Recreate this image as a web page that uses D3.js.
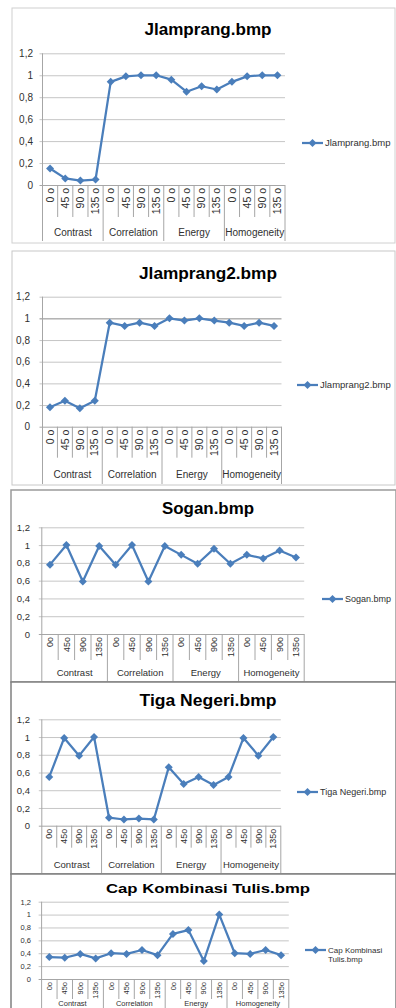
<!DOCTYPE html>
<html>
<head>
<meta charset="utf-8">
<script src="https://cdn.jsdelivr.net/npm/d3@7"></script>
<style>
  html, body { margin: 0; padding: 0; background: #fff; }
  svg { display: block; }
  text { font-family: "Liberation Sans", Arial, sans-serif; }
</style>
</head>
<body>
<svg id="chart" width="396" height="1008"></svg>
<script>
// ---------- data ----------
const categories = ["Contrast", "Correlation", "Energy", "Homogeneity"];
const angleLabels = ["0 o", "45 o", "90 o", "135 o"];
const angleLabelsCompact = ["0o", "45o", "90o", "135o"];
const yTickValues = [0, 0.2, 0.4, 0.6, 0.8, 1, 1.2];
const seriesNames = ["Jlamprang.bmp", "Jlamprang2.bmp", "Sogan.bmp", "Tiga Negeri.bmp", "Cap Kombinasi Tulis.bmp"];
const legendLabels = [["Jlamprang.bmp"], ["Jlamprang2.bmp"], ["Sogan.bmp"], ["Tiga Negeri.bmp"], ["Cap Kombinasi", "Tulis.bmp"]];

const jlamprangValues   = [0.15, 0.06, 0.04, 0.05, 0.94, 0.99, 1.00, 1.00, 0.96, 0.85, 0.90, 0.87, 0.94, 0.99, 1.00, 1.00];
const jlamprang2Values  = [0.18, 0.24, 0.17, 0.24, 0.96, 0.93, 0.96, 0.93, 1.00, 0.98, 1.00, 0.98, 0.96, 0.93, 0.96, 0.93];
const soganValues       = [0.78, 1.00, 0.59, 0.99, 0.78, 1.00, 0.59, 0.99, 0.89, 0.79, 0.96, 0.79, 0.89, 0.85, 0.94, 0.86];
const tigaNegeriValues  = [0.55, 0.99, 0.79, 1.00, 0.09, 0.07, 0.08, 0.07, 0.66, 0.47, 0.55, 0.46, 0.55, 0.99, 0.79, 1.00];
const capKombinasiValues= [0.34, 0.33, 0.39, 0.32, 0.40, 0.39, 0.45, 0.37, 0.70, 0.76, 0.28, 1.00, 0.40, 0.39, 0.45, 0.37];
const allSeries = [jlamprangValues, jlamprang2Values, soganValues, tigaNegeriValues, capKombinasiValues];
const angleSets = [angleLabels, angleLabels, angleLabelsCompact, angleLabelsCompact, angleLabelsCompact];

// ---------- layout (positions & styles) ----------
const layouts = [
  { frame: [12, 8, 383, 235], frameColor: "#d0d0d0", frameWidth: 1,
    titleY: 35, titleSize: 17, titleLen: 127,
    x0: 42.5, x1: 285, yTop: 53.3, yBot: 185, tickX: 33, tickSize: 10,
    innerLen: 32, groupBottom: 241, groupLabelY: 235.5, angleSize: 10.5, groupSize: 10,
    legX: 302, legY: 143, legSize: 9.5, oneLine: null },
  { frame: [12, 251, 383, 234], frameColor: "#c8c8c8", frameWidth: 1,
    titleY: 279, titleSize: 17, titleLen: 138,
    x0: 42.5, x1: 281.5, yTop: 296.7, yBot: 426.7, tickX: 30, tickSize: 10,
    innerLen: 31, groupBottom: 484, groupLabelY: 477.5, angleSize: 10.5, groupSize: 10,
    legX: 297, legY: 385, legSize: 9.5, oneLine: 1 },
  { frame: [11, 490, 385, 192], frameColor: "#9a9a9a", frameWidth: 1.5,
    titleY: 514, titleSize: 17, titleLen: 92,
    x0: 41.8, x1: 304.2, yTop: 527.3, yBot: 634, tickX: 30, tickSize: 9.5,
    innerLen: 26, groupBottom: 682, groupLabelY: 675.5, angleSize: 9, groupSize: 9.5,
    legX: 322, legY: 599, legSize: 9, oneLine: null },
  { frame: [11, 682, 385, 192], frameColor: "#808080", frameWidth: 1.5,
    titleY: 706, titleSize: 17, titleLen: 137,
    x0: 41.8, x1: 280.8, yTop: 719.3, yBot: 825.7, tickX: 30, tickSize: 9.5,
    innerLen: 22, groupBottom: 874, groupLabelY: 867.5, angleSize: 9, groupSize: 9.5,
    legX: 297, legY: 792, legSize: 9, oneLine: null },
  { frame: [11, 874, 385, 140], frameColor: "#808080", frameWidth: 1.5,
    titleY: 893, titleSize: 13, titleLen: 204,
    x0: 41.6, x1: 288.8, yTop: 901.7, yBot: 979, tickX: 31, tickSize: 7.5,
    innerLen: 20, groupBottom: 1008, groupLabelY: 1005.5, angleSize: 7.5, groupSize: 7.5,
    legX: 305, legY: 950, legSize: 8, oneLine: null }
];

const lineColor = "#4a7ebb";
const gridColor = "#c6c6c6";
const axisColor = "#a6a6a6";
const textColor = "#303030";

const svg = d3.select("#chart");
const idx = d3.range(16);

layouts.forEach((L, p) => {
  const g = svg.append("g");
  const values = allSeries[p];

  // frame
  g.append("rect")
    .attr("x", L.frame[0]).attr("y", L.frame[1])
    .attr("width", L.frame[2]).attr("height", L.frame[3])
    .attr("fill", "#fff").attr("stroke", L.frameColor).attr("stroke-width", L.frameWidth);

  const x = d3.scaleBand().domain(idx).range([L.x0, L.x1]).padding(0);
  const y = d3.scaleLinear().domain([0, 1.2]).range([L.yBot, L.yTop]);

  // title
  g.append("text")
    .attr("x", 208).attr("y", L.titleY)
    .attr("text-anchor", "middle")
    .attr("font-weight", "bold").attr("font-size", L.titleSize)
    .attr("textLength", L.titleLen).attr("lengthAdjust", "spacingAndGlyphs")
    .attr("fill", "#000")
    .text(seriesNames[p]);

  // y gridlines + labels via axis
  const yAxis = d3.axisLeft(y).tickValues(yTickValues)
    .tickSize(-(L.x1 - L.x0)).tickPadding(L.x0 - L.tickX)
    .tickFormat(d => String(d3.format(".1f")(d)).replace(/\.0$/, "").replace(".", ","));
  const ya = g.append("g").attr("transform", `translate(${L.x0},0)`).call(yAxis);
  ya.select(".domain").remove();
  ya.selectAll(".tick line")
    .attr("x1", -3)
    .attr("stroke", d => (p === L.oneLine && d === 1) ? "#8a8a8a" : gridColor)
    .attr("stroke-width", 1);
  ya.selectAll(".tick line").filter(d => d === 0).attr("stroke", axisColor);
  ya.selectAll(".tick text")
    .attr("font-size", L.tickSize).attr("fill", textColor)
    .attr("font-family", "Liberation Sans, Arial, sans-serif");

  // vertical value axis line (extends through category area)
  g.append("line")
    .attr("x1", L.x0).attr("x2", L.x0)
    .attr("y1", L.yTop).attr("y2", L.groupBottom)
    .attr("stroke", axisColor);

  // category separators
  const bw = x.bandwidth();
  d3.range(1, 17).forEach(i => {
    const xx = L.x0 + i * bw;
    const isGroup = i % 4 === 0;
    g.append("line")
      .attr("x1", xx).attr("x2", xx)
      .attr("y1", L.yBot).attr("y2", isGroup ? L.groupBottom : L.yBot + L.innerLen)
      .attr("stroke", axisColor);
  });

  // angle labels (rotated)
  idx.forEach(i => {
    const cx = x(i) + bw / 2;
    g.append("text")
      .attr("transform", `translate(${cx + L.angleSize * 0.35},${L.yBot + 3}) rotate(-90)`)
      .attr("text-anchor", "end")
      .attr("font-size", L.angleSize).attr("fill", textColor)
      .text(angleSets[p][i % 4]);
  });

  // group labels
  categories.forEach((c, k) => {
    const cx = L.x0 + (k * 4 + 2) * bw;
    g.append("text")
      .attr("x", cx).attr("y", L.groupLabelY)
      .attr("text-anchor", "middle")
      .attr("font-size", L.groupSize).attr("fill", textColor)
      .text(c);
  });

  // series line
  const line = d3.line().x((d, i) => x(i) + bw / 2).y(d => y(d));
  g.append("path")
    .datum(values)
    .attr("d", line)
    .attr("fill", "none").attr("stroke", lineColor)
    .attr("stroke-width", 2.25).attr("stroke-linejoin", "round");

  const diamond = d3.symbol().type(d3.symbolSquare).size(32);
  g.selectAll(".mk").data(values).enter().append("path")
    .attr("d", diamond)
    .attr("transform", (d, i) => `translate(${x(i) + bw / 2},${y(d)}) rotate(45)`)
    .attr("fill", lineColor);

  // legend
  const lg = g.append("g");
  lg.append("line")
    .attr("x1", L.legX).attr("x2", L.legX + 21)
    .attr("y1", L.legY).attr("y2", L.legY)
    .attr("stroke", lineColor).attr("stroke-width", 2.25);
  lg.append("path")
    .attr("d", diamond)
    .attr("transform", `translate(${L.legX + 10.5},${L.legY}) rotate(45)`)
    .attr("fill", lineColor);
  legendLabels[p].forEach((t, j) => {
    lg.append("text")
      .attr("x", L.legX + 23).attr("y", L.legY + L.legSize * 0.35 + j * (L.legSize + 1.5))
      .attr("font-size", L.legSize).attr("fill", textColor)
      .text(t);
  });
});
</script>
</body>
</html>
